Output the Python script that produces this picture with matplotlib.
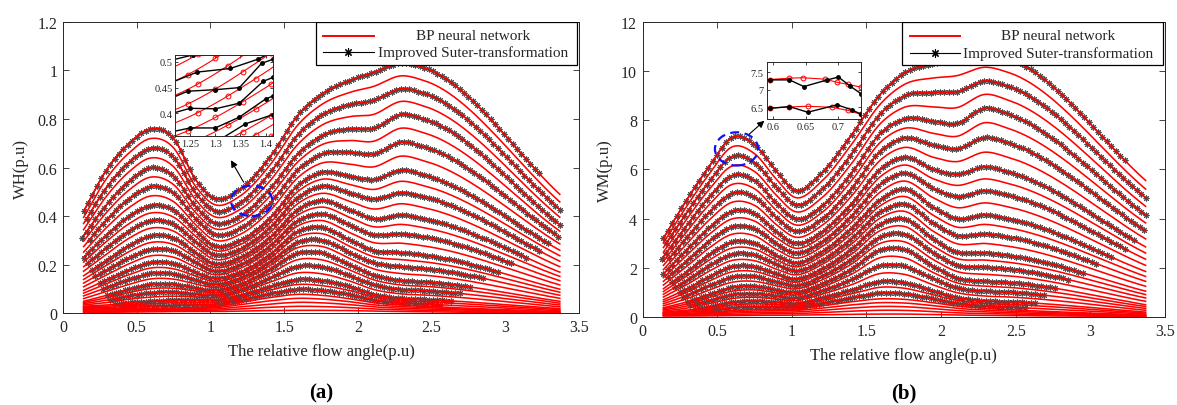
import numpy as np
import matplotlib
matplotlib.use("Agg")
import matplotlib.pyplot as plt
from matplotlib.patches import Ellipse, Rectangle
from matplotlib.lines import Line2D
from matplotlib.ticker import FuncFormatter

plt.rcParams['font.family'] = ['Liberation Serif', 'DejaVu Serif']

# knot positions (relative flow angle, p.u) shared by both panels
knot_x = [0.14, 0.3, 0.45, 0.6, 0.75, 0.9, 1.02, 1.2, 1.4, 1.6, 1.75, 1.95, 2.1, 2.3, 2.45, 3.37]

# red curve index of each anchor curve (0 = top curve)
anchor_rows = [0, 4, 8, 12, 16, 20, 24, 27, 31]
n_red = 32

# WH anchor curves
wh_anchors = [
    [0.42, 0.595, 0.70, 0.76, 0.72, 0.55, 0.475, 0.51, 0.64, 0.82, 0.90, 0.96, 0.99, 1.03, 1.01, 0.49],
    [0.32, 0.45, 0.545, 0.60, 0.565, 0.44, 0.375, 0.40, 0.51, 0.66, 0.73, 0.76, 0.76, 0.82, 0.80, 0.365],
    [0.23, 0.325, 0.40, 0.445, 0.425, 0.34, 0.28, 0.30, 0.39, 0.53, 0.58, 0.565, 0.55, 0.59, 0.57, 0.26],
    [0.155, 0.22, 0.28, 0.32, 0.31, 0.25, 0.205, 0.23, 0.31, 0.43, 0.465, 0.425, 0.39, 0.405, 0.39, 0.17],
    [0.095, 0.14, 0.18, 0.21, 0.205, 0.17, 0.145, 0.17, 0.24, 0.34, 0.355, 0.30, 0.26, 0.25, 0.24, 0.10],
    [0.05, 0.075, 0.10, 0.12, 0.12, 0.105, 0.095, 0.12, 0.18, 0.25, 0.25, 0.20, 0.16, 0.135, 0.13, 0.05],
    [0.03, 0.035, 0.045, 0.05, 0.055, 0.055, 0.055, 0.075, 0.11, 0.14, 0.135, 0.11, 0.08, 0.062, 0.058, 0.02],
    [0.02, 0.02, 0.02, 0.02, 0.022, 0.025, 0.028, 0.045, 0.065, 0.079, 0.075, 0.06, 0.045, 0.035, 0.03, 0.007],
    [0.005, 0.005, 0.006, 0.007, 0.008, 0.008, 0.008, 0.01, 0.012, 0.013, 0.013, 0.012, 0.01, 0.008, 0.007, 0.001],
]

# WM anchor curves
wm_anchors = [
    [3.2, 4.8, 6.15, 7.3, 7.0, 5.9, 5.15, 5.85, 7.4, 9.1, 9.9, 10.3, 10.45, 10.7, 10.5, 5.55],
    [2.45, 3.75, 4.9, 5.75, 5.55, 4.6, 4.0, 4.5, 5.85, 7.5, 8.05, 7.95, 7.85, 8.5, 8.25, 4.15],
    [1.75, 2.75, 3.65, 4.3, 4.2, 3.45, 3.0, 3.45, 4.6, 6.05, 6.5, 6.0, 5.8, 6.1, 5.9, 2.85],
    [1.15, 1.85, 2.55, 3.05, 3.0, 2.5, 2.2, 2.65, 3.6, 4.8, 5.2, 4.45, 4.0, 4.15, 4.0, 1.85],
    [0.7, 1.15, 1.65, 2.05, 2.05, 1.75, 1.55, 1.95, 2.75, 3.8, 4.0, 3.15, 2.65, 2.6, 2.5, 1.05],
    [0.38, 0.62, 0.92, 1.2, 1.25, 1.1, 1.0, 1.35, 1.95, 2.75, 2.75, 2.05, 1.6, 1.45, 1.4, 0.5],
    [0.2, 0.28, 0.42, 0.6, 0.65, 0.6, 0.55, 0.78, 1.1, 1.45, 1.4, 1.05, 0.8, 0.65, 0.62, 0.2],
    [0.12, 0.15, 0.2, 0.26, 0.3, 0.32, 0.33, 0.45, 0.62, 0.74, 0.72, 0.58, 0.45, 0.35, 0.3, 0.08],
    [0.04, 0.04, 0.05, 0.06, 0.07, 0.07, 0.08, 0.09, 0.11, 0.12, 0.12, 0.1, 0.08, 0.07, 0.06, 0.02],
]

# Improved Suter-transformation curves: on every other red curve
black_rows = [0, 2, 4, 6, 8, 10, 12, 14, 16, 18, 20, 22, 24, 26]
black_start = [0.14, 0.16, 0.13, 0.18, 0.14, 0.17, 0.2, 0.22, 0.25, 0.27, 0.3, 0.32, 0.35, 0.4]
black_end = [3.25, 3.37, 3.37, 3.37, 3.3, 3.25, 3.15, 3.05, 2.95, 2.86, 2.78, 2.7, 2.63, 2.58]
black_step = 0.03

# zoomed inset (a): Suter points around x = 1.3
ins_a_black_x = [
    [1.221, 1.255, 1.300],
    [1.221, 1.264, 1.330, 1.385, 1.415],
    [1.221, 1.245, 1.300, 1.348, 1.392, 1.415],
    [1.221, 1.250, 1.300, 1.348, 1.395, 1.415],
    [1.221, 1.250, 1.300, 1.348, 1.400, 1.415],
    [1.310, 1.360, 1.415],
]
ins_a_black_y = [
    [0.505, 0.513, 0.525],
    [0.463, 0.480, 0.487, 0.505, 0.520],
    [0.433, 0.443, 0.446, 0.450, 0.497, 0.505],
    [0.402, 0.410, 0.409, 0.420, 0.462, 0.470],
    [0.366, 0.372, 0.372, 0.393, 0.428, 0.434],
    [0.350, 0.380, 0.398],
]
ins_a_circle_x_even = [1.245, 1.300, 1.355, 1.41]
ins_a_circle_x_odd = [1.265, 1.325, 1.38]

# zoomed inset (b): around x = 0.65
ins_b_red_x = [[0.59, 0.595, 0.625, 0.645, 0.68, 0.698, 0.715, 0.735],
               [0.59, 0.595, 0.625, 0.653, 0.69, 0.715, 0.735]]
ins_b_red_y = [[7.28, 7.29, 7.33, 7.34, 7.30, 7.21, 7.15, 7.07],
               [6.47, 6.48, 6.51, 6.53, 6.50, 6.41, 6.30]]
ins_b_black_x = [[0.59, 0.595, 0.625, 0.647, 0.683, 0.700, 0.718, 0.735],
                 [0.59, 0.595, 0.625, 0.653, 0.698, 0.720, 0.735]]
ins_b_black_y = [[7.27, 7.28, 7.28, 7.09, 7.28, 7.36, 7.10, 6.88],
                 [6.46, 6.47, 6.52, 6.36, 6.57, 6.43, 6.30]]

TXT = '#262626'


def hermite(xk, yk, xs):
    xk = np.asarray(xk, float)
    yk = np.asarray(yk, float)
    h = np.diff(xk)
    d = np.diff(yk) / h
    m = np.empty_like(yk)
    m[0], m[-1] = d[0], d[-1]
    m[1:-1] = (d[:-1] * h[1:] + d[1:] * h[:-1]) / (h[:-1] + h[1:])
    i = np.clip(np.searchsorted(xk, xs) - 1, 0, len(h) - 1)
    t = (xs - xk[i]) / h[i]
    return ((2 * t**3 - 3 * t**2 + 1) * yk[i] + (t**3 - 2 * t**2 + t) * h[i] * m[i]
            + (-2 * t**3 + 3 * t**2) * yk[i + 1] + (t**3 - t**2) * h[i] * m[i + 1])


def row_knots(anchors, row):
    a = np.asarray(anchors, float)
    j = min(np.searchsorted(anchor_rows, row, side='right') - 1, len(anchor_rows) - 2)
    t = (row - anchor_rows[j]) / (anchor_rows[j + 1] - anchor_rows[j])
    return (1 - t) * a[j] + t * a[j + 1]


def draw_family(ax, anchors, x_lo=0.14, x_hi=3.37):
    xs = np.linspace(x_lo, x_hi, 500)
    for k, row in enumerate(black_rows):
        bx = np.arange(black_start[k], black_end[k] + 1e-9, black_step)
        by = hermite(knot_x, row_knots(anchors, row), bx)
        ax.plot(bx, by, '-', color='k', lw=1.0, marker=(8, 2, 0), ms=4.2,
                mew=0.75, mec='0.3', zorder=2)
    for row in range(n_red):
        ax.plot(xs, hermite(knot_x, row_knots(anchors, row), xs),
                color='#ff0000', lw=1.15, zorder=3)


def style_axes(ax, size):
    ax.tick_params(direction='in', top=True, right=True, labelsize=size,
                   colors=TXT, length=4, width=0.6, pad=4)
    for s in ax.spines.values():
        s.set_color(TXT)
        s.set_linewidth(0.7)
    fmt = FuncFormatter(lambda v, p: f'{v:g}')
    ax.xaxis.set_major_formatter(fmt)
    ax.yaxis.set_major_formatter(fmt)


def draw_legend(ax, x0, lx0, lx1):
    ax.add_patch(Rectangle((x0, 0.852), 0.996 - x0, 0.148, transform=ax.transAxes,
                           facecolor='white', edgecolor='k', lw=0.9, zorder=20))
    ax.add_line(Line2D([lx0, lx1], [0.952, 0.952], transform=ax.transAxes,
                       color='#ff0000', lw=1.4, zorder=21))
    ax.add_line(Line2D([lx0, lx1], [0.895, 0.895], transform=ax.transAxes,
                       color='k', lw=0.8, zorder=21))
    ax.add_line(Line2D([(lx0 + lx1) / 2], [0.895], transform=ax.transAxes,
                       color='k', marker=(8, 2, 0), ms=6, mew=0.8, zorder=22))
    ax.text(0.795, 0.952, 'BP neural network', transform=ax.transAxes, ha='center',
            va='center', fontsize=11, color=TXT, zorder=22)
    ax.text(0.795, 0.895, 'Improved Suter-transformation', transform=ax.transAxes,
            ha='center', va='center', fontsize=11, color=TXT, zorder=22)


fig = plt.figure(figsize=(11.77, 4.06), dpi=100)
ax_a = fig.add_axes([0.0535, 0.2254, 0.4384, 0.7187])
ax_b = fig.add_axes([0.5459, 0.2167, 0.4439, 0.7274])

# ---- panel (a) ----
draw_family(ax_a, wh_anchors)
ax_a.set_xlim(0, 3.5)
ax_a.set_ylim(0, 1.2)
ax_a.set_xticks(np.arange(0, 3.51, 0.5))
ax_a.set_yticks(np.arange(0, 1.21, 0.2))
style_axes(ax_a, 11.5)
ax_a.set_xlabel('The relative flow angle(p.u)', fontsize=12, color=TXT, labelpad=6)
ax_a.set_ylabel('WH(p.u)', fontsize=12, color=TXT, labelpad=6)
draw_legend(ax_a, 0.49, 0.503, 0.603)
ax_a.add_patch(Ellipse((1.28, 0.463), 0.28, 0.125, fill=False, ec='#1010ff',
                       lw=1.6, ls=(0, (4, 2.5)), zorder=6))
ax_a.annotate('', xy=(1.13, 0.64), xytext=(1.235, 0.53),
              arrowprops=dict(arrowstyle='-|>', color='k', lw=0.8, mutation_scale=10),
              zorder=6)

ins_a = ax_a.inset_axes([0.763, 0.729, 0.663, 0.336], transform=ax_a.transData)
xs_in = np.linspace(1.2, 1.44, 60)
for row in range(12):
    kn = row_knots(wh_anchors, row)
    ins_a.plot(xs_in, hermite(knot_x, kn, xs_in), color='#ff0000', lw=0.8)
    cx = np.array(ins_a_circle_x_even if row % 2 == 0 else ins_a_circle_x_odd)
    ins_a.plot(cx, hermite(knot_x, kn, cx), 'o', ms=3.5, mfc='none', mec='#ff0000', mew=0.7)
for bx, by in zip(ins_a_black_x, ins_a_black_y):
    ins_a.plot(bx, by, '-', color='k', lw=1.0)
    ins_a.plot(bx[1:], by[1:], '.', color='k', ms=5)
ins_a.set_xlim(1.221, 1.415)
ins_a.set_ylim(0.356, 0.514)
ins_a.set_xticks([1.25, 1.3, 1.35, 1.4])
ins_a.set_yticks([0.4, 0.45, 0.5])
style_axes(ins_a, 7.5)
ins_a.tick_params(length=2.5, pad=2)

# ---- panel (b) ----
draw_family(ax_b, wm_anchors)
ax_b.set_xlim(0, 3.5)
ax_b.set_ylim(0, 12)
ax_b.set_xticks(np.arange(0, 3.51, 0.5))
ax_b.set_yticks(np.arange(0, 12.1, 2))
style_axes(ax_b, 11.5)
ax_b.set_xlabel('The relative flow angle(p.u)', fontsize=12, color=TXT, labelpad=6)
ax_b.set_ylabel('WM(p.u)', fontsize=12, color=TXT, labelpad=6)
draw_legend(ax_b, 0.496, 0.511, 0.608)
ax_b.add_patch(Ellipse((0.63, 6.83), 0.29, 1.35, fill=False, ec='#1010ff',
                       lw=1.6, ls=(0, (4, 2.5)), zorder=6))
ax_b.annotate('', xy=(0.83, 8.05), xytext=(0.70, 7.35),
              arrowprops=dict(arrowstyle='-|>', color='k', lw=0.8, mutation_scale=10),
              zorder=6)

ins_b = ax_b.inset_axes([0.831, 8.05, 0.635, 2.3], transform=ax_b.transData)
for rx, ry in zip(ins_b_red_x, ins_b_red_y):
    ins_b.plot(rx, ry, '-', color='#ff0000', lw=0.8)
    ins_b.plot(rx[1:], ry[1:], 'o', ms=3.5, mfc='none', mec='#ff0000', mew=0.7)
for bx, by in zip(ins_b_black_x, ins_b_black_y):
    ins_b.plot(bx, by, '-', color='k', lw=1.0)
    ins_b.plot(bx[1:], by[1:], '.', color='k', ms=5)
ins_b.set_xlim(0.59, 0.735)
ins_b.set_ylim(6.17, 7.78)
ins_b.set_xticks([0.6, 0.65, 0.7])
ins_b.set_yticks([6.5, 7, 7.5])
style_axes(ins_b, 7.5)
ins_b.tick_params(length=2.5, pad=2)

fig.text(0.0535 + 0.4384 / 2, 0.032, '(a)', ha='center', va='center',
         fontsize=15, fontweight='bold', color='k')
fig.text(0.5459 + 0.4439 / 2, 0.032, '(b)', ha='center', va='center',
         fontsize=15, fontweight='bold', color='k')

fig.savefig('out.png', dpi=100)
